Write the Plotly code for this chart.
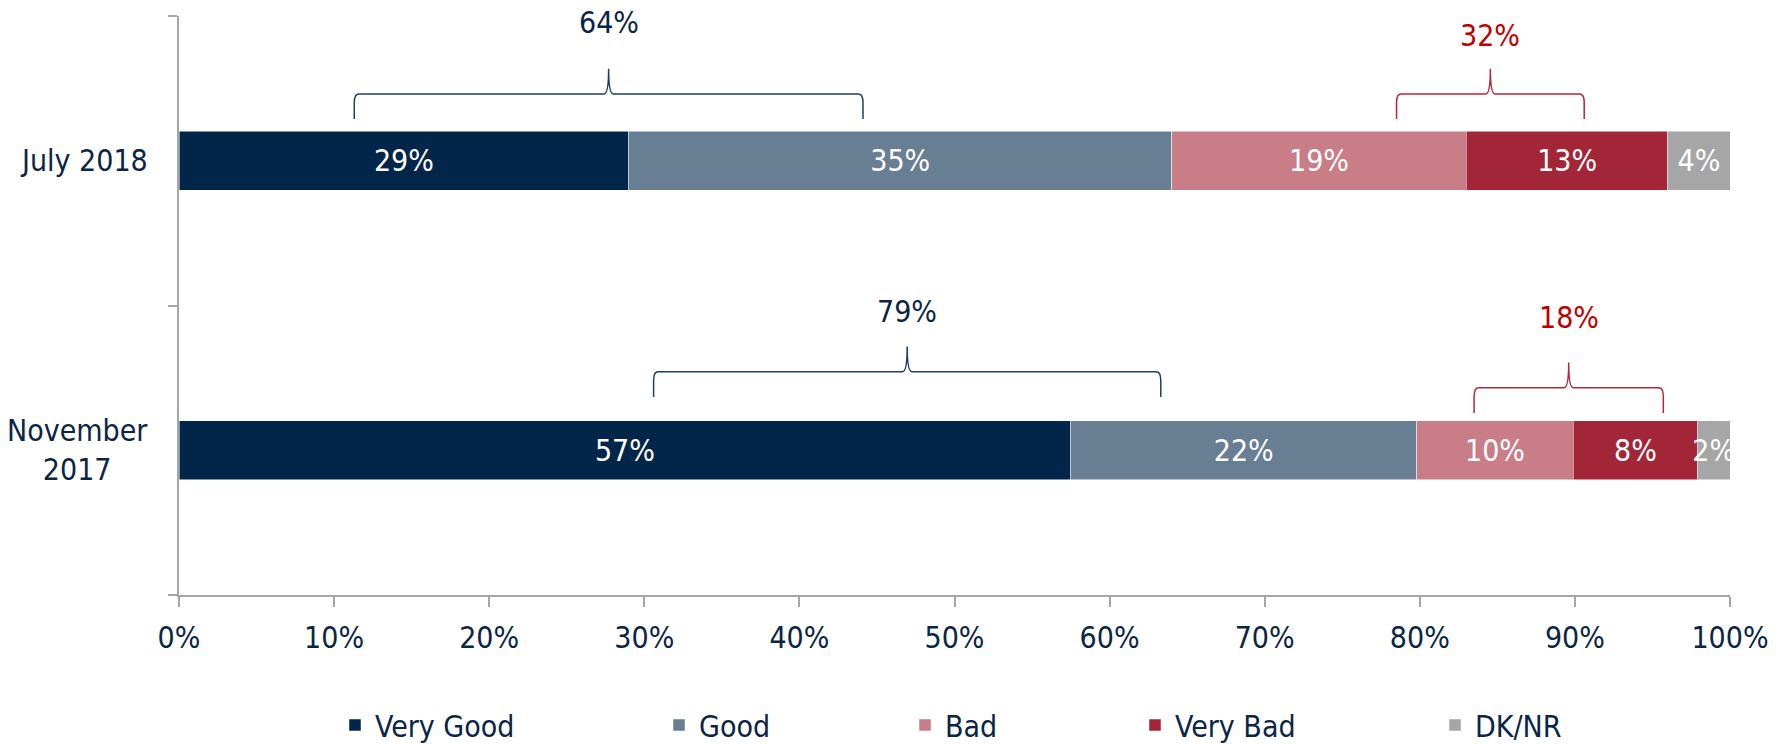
import plotly.graph_objects as go

# ---- data ----
categories = ["November 2017", "July 2018"]
category_text = ["November<br>2017", "July 2018"]
series_names = ["Very Good", "Good", "Bad", "Very Bad", "DK/NR"]
very_good = [57.5, 29]
good = [22.3, 35]
bad = [10.1, 19]
very_bad = [8.0, 13]
dk_nr = [2.1, 4]
series_values = [very_good, good, bad, very_bad, dk_nr]
series_colors = ["#02264A", "#687E93", "#C97D87", "#A32638", "#A6A6A6"]

x_tick_values = [0, 10, 20, 30, 40, 50, 60, 70, 80, 90, 100]
x_tick_labels = ["0%", "10%", "20%", "30%", "40%", "50%", "60%", "70%", "80%", "90%", "100%"]

# brace annotations (group totals)
brace_labels = ["64%", "32%", "79%", "18%"]
brace_row = [1, 1, 0, 0]
brace_x0 = [11.3, 78.5, 30.6, 83.5]
brace_x1 = [44.1, 90.6, 63.3, 95.7]
brace_kind = ["pos", "neg", "pos", "neg"]

# ---- style ----
FONT = "DejaVu Sans Condensed, DejaVu Sans, sans-serif"
NAVY = "#0B2545"
RED = "#C00000"
brace_line_color = {"pos": "#1F3F66", "neg": "#B5283B"}
brace_text_color = {"pos": NAVY, "neg": RED}
brace_end_off = [0.144, 0.144, 0.184, 0.129]
brace_label_off = [0.476, 0.434, 0.478, 0.457]

W, H = 1785, 745
PLOT_L, PLOT_W = 179, 1551
PLOT_T, PLOT_H = 16, 579

fig = go.Figure()
legend_px = [351, 675, 921, 1151, 1451]
ykeys = [0, 1]
for i, (name, vals, col) in enumerate(zip(series_names, series_values, series_colors)):
    fig.add_trace(go.Bar(
        y=ykeys, x=vals, orientation="h", name=name,
        marker=dict(color=col, line=dict(color="white", width=0.5)),
        text=[f"{int(v)}%" for v in vals], textposition="inside",
        insidetextanchor="middle", textangle=0,
        textfont=dict(color="white", size=30, family=FONT),
        width=0.204, legend=f"legend{i+2}", hoverinfo="skip",
    ))

layout_legends = {}
for i, px in enumerate(legend_px):
    layout_legends[f"legend{i+2}"] = dict(
        x=(px - 16 - PLOT_L) / PLOT_W, xanchor="left",
        y=-0.2245, yanchor="middle", orientation="h",
        font=dict(size=30, color=NAVY, family=FONT),
        bgcolor="rgba(0,0,0,0)", borderwidth=0,
    )

shapes = []
annotations = []
dxc, dyc = 0.3, 0.03
dxp = 0.3
for lab, row, x0, x1, kind, eo, lo in zip(brace_labels, brace_row, brace_x0, brace_x1,
                                          brace_kind, brace_end_off, brace_label_off):
    yend = row + eo
    yline = yend + 0.087
    ypeak = yline + 0.087
    xm = (x0 + x1) / 2
    path = (f"M {x0},{yend} L {x0},{yline - dyc} Q {x0},{yline} {x0 + dxc},{yline} "
            f"L {xm - dxp},{yline} Q {xm},{yline} {xm},{ypeak} "
            f"Q {xm},{yline} {xm + dxp},{yline} L {x1 - dxc},{yline} "
            f"Q {x1},{yline} {x1},{yline - dyc} L {x1},{yend}")
    shapes.append(dict(type="path", path=path, xref="x", yref="y",
                       line=dict(color=brace_line_color[kind], width=1.5)))
    annotations.append(dict(x=xm, y=row + lo, xref="x", yref="y", text=lab,
                            showarrow=False, xanchor="center", yanchor="middle",
                            font=dict(size=30, color=brace_text_color[kind], family=FONT)))

for yk, txt in zip(ykeys, category_text):
    annotations.append(dict(x=(150 - PLOT_L) / PLOT_W, y=yk, xref="paper", yref="y",
                            text=txt, showarrow=False, xanchor="right", yanchor="middle",
                            align="center",
                            font=dict(size=30, color=NAVY, family=FONT)))

fig.update_layout(
    width=W, height=H,
    margin=dict(l=PLOT_L, r=W - PLOT_L - PLOT_W, t=PLOT_T, b=H - PLOT_T - PLOT_H,
                autoexpand=False),
    barmode="stack",
    plot_bgcolor="white", paper_bgcolor="white",
    font=dict(family=FONT, color=NAVY, size=30),
    uniformtext=dict(minsize=30, mode="show"),
    shapes=shapes, annotations=annotations,
    **layout_legends,
)
fig.update_xaxes(
    range=[0, 100], tickvals=x_tick_values, ticktext=x_tick_labels,
    showgrid=False, zeroline=False, showline=True, linecolor="#A6A6A6", linewidth=1.5,
    ticks="outside", ticklen=10, tickcolor="#A6A6A6", tickwidth=1.5,
    tickfont=dict(size=30, color=NAVY, family=FONT), ticklabelstandoff=5,
)
fig.update_yaxes(
    range=[-0.5, 1.5], tickvals=ykeys, ticktext=["", ""], ticks="",
    showgrid=False, zeroline=False, showline=True, linecolor="#A6A6A6", linewidth=1.5,
    minor=dict(tickvals=[-0.5, 0.5, 1.5], ticks="outside", ticklen=9,
               tickcolor="#A6A6A6", tickwidth=1.5, showgrid=False),
)
fig.write_html("out.html", config={"displayModeBar": False},
               post_script="document.body.style.margin='0';document.body.style.overflow='hidden';")
